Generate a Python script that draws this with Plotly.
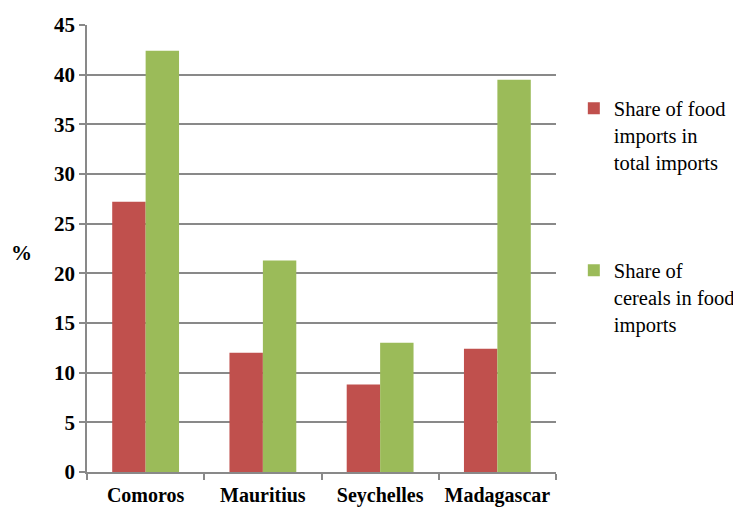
import plotly.graph_objects as go

categories = ["Comoros", "Mauritius", "Seychelles", "Madagascar"]
food_share = [27.2, 12.0, 8.8, 12.4]
cereal_share = [42.4, 21.3, 13.0, 39.5]
series_names = ["Share of food<br>imports in<br>total imports",
                "Share of<br>cereals in food<br>imports"]
y_ticks = [0, 5, 10, 15, 20, 25, 30, 35, 40, 45]

SERIF = "Liberation Serif, Times New Roman, serif"

# the page body adds an 8px offset; margins compensate so the plot area
# sits at x 87..556, y 25..472 on screen
L, R, T, B = 79, 193, 17, 44
W, H = 741, 508
pw = W - L - R
ph = H - T - B

fig = go.Figure()
fig.add_trace(go.Bar(x=categories, y=food_share, name=series_names[0],
                     marker=dict(color="#C0504D", line=dict(width=0)),
                     legendgroup="a"))
fig.add_trace(go.Bar(x=categories, y=cereal_share, name=series_names[1],
                     marker=dict(color="#9BBB59", line=dict(width=0)),
                     legendgroup="b"))

fig.update_layout(
    width=W, height=H,
    margin=dict(l=L, r=R, t=T, b=B, autoexpand=False),
    paper_bgcolor="white", plot_bgcolor="white",
    barmode="group", bargap=0.43, bargroupgap=0,
    font=dict(family=SERIF, color="black"),
    legend=dict(x=1.038, y=0.858, xanchor="left", yanchor="top",
                font=dict(family=SERIF, size=20.5, color="black"),
                tracegroupgap=79, valign="top", itemwidth=30,
                bgcolor="rgba(0,0,0,0)"),
    xaxis=dict(type="category", showgrid=False, showline=True, automargin=False,
               linecolor="#898989", linewidth=1.5,
               ticks="outside", tickson="boundaries", ticklen=6,
               tickcolor="#898989", tickwidth=1.5, ticklabelstandoff=4,
               tickfont=dict(family=SERIF, size=20, color="black",
                             weight="bold")),
    yaxis=dict(range=[0, 45], tickvals=y_ticks, showgrid=True, automargin=False,
               gridcolor="#898989", gridwidth=1.5,
               showline=True, linecolor="#898989", linewidth=1.5,
               ticks="outside", ticklen=6, tickcolor="#898989", tickwidth=1.5,
               zeroline=False,
               tickfont=dict(family=SERIF, size=21, color="black",
                             weight="bold")),
    annotations=[dict(text="<b>%</b>", x=(21 - 87) / pw, y=(472 - 253) / ph,
                      xref="paper", yref="paper", xanchor="center", yanchor="middle",
                      showarrow=False, font=dict(size=21, family=SERIF))],
)

fig.write_html("out.html")
